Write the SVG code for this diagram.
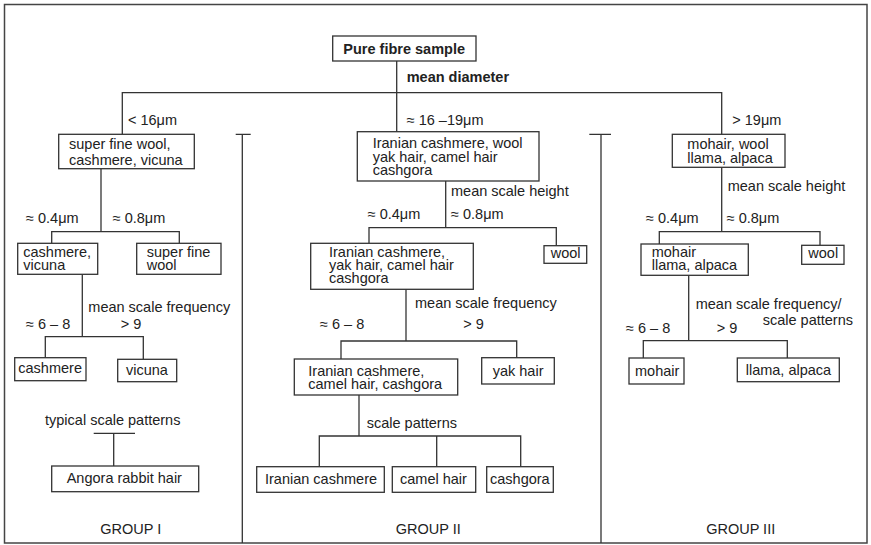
<svg xmlns="http://www.w3.org/2000/svg" width="871" height="545" viewBox="0 0 871 545">
<style>
.b{fill:#fff;stroke:#333;stroke-width:1.3}
.c line,.c path{stroke:#333;stroke-width:1.3;fill:none}
text{font-family:"Liberation Sans",Arial,sans-serif;font-size:14.5px;fill:#222}
.bold{font-weight:bold}
.m{text-anchor:middle}
</style>
<rect x="4.5" y="4.5" width="862.5" height="538.5" fill="#fff" stroke="#444" stroke-width="1.5"/>
<g id="connectors" class="c">
<line x1="396.7" y1="61" x2="396.7" y2="131.7"/>
<path d="M122.3 134.3V92.7H721.7V134.3"/>
<path d="M242.3 134.3V543M235.7 134.3H250.7"/>
<path d="M601 134.3V543M589.3 134.3H611"/>
<line x1="101" y1="168.7" x2="101" y2="231.7"/>
<path d="M51.7 243.3V231.7H179.3V243.3"/>
<line x1="82.3" y1="274.3" x2="82.3" y2="336.7"/>
<path d="M45.3 357.7V336.7H143.3V359.3"/>
<path d="M93.7 433.3H135M113.7 433.3V466"/>
<line x1="445.7" y1="181" x2="445.7" y2="227.7"/>
<path d="M369 243.3V227.7H556.3V245.7"/>
<line x1="406" y1="289.3" x2="406" y2="341"/>
<path d="M341 359V341H516.7V357.7"/>
<line x1="359" y1="395" x2="359" y2="436"/>
<path d="M319.3 466.7V436H520.7V466.7M436.7 436V466.7"/>
<line x1="721.7" y1="167.3" x2="721.7" y2="231.7"/>
<path d="M659.3 244V231.7H820V245.3"/>
<line x1="688.7" y1="275.3" x2="688.7" y2="340.7"/>
<path d="M643.3 358V340.7H787.3V358"/>
</g>
<g id="labels">
<text class="bold" x="406.7" y="82">mean diameter</text>
<text x="128" y="125">&lt; 16μm</text>
<text x="406.7" y="125">≈ 16 –19μm</text>
<text x="732.3" y="125">&gt; 19μm</text>
<text x="26" y="223.3">≈ 0.4μm</text>
<text x="112.7" y="223.3">≈ 0.8μm</text>
<text x="88.3" y="311.7">mean scale frequency</text>
<text x="26" y="329.3">≈ 6 – 8</text>
<text x="120.7" y="329.3">&gt; 9</text>
<text x="45" y="425">typical scale patterns</text>
<text x="451" y="196">mean scale height</text>
<text x="367.7" y="219.3">≈ 0.4μm</text>
<text x="451" y="219.3">≈ 0.8μm</text>
<text x="415" y="307.7">mean scale frequency</text>
<text x="320" y="329.3">≈ 6 – 8</text>
<text x="463.3" y="329.3">&gt; 9</text>
<text x="366.7" y="428.3">scale patterns</text>
<text x="727.7" y="190.7">mean scale height</text>
<text x="646" y="223.3">≈ 0.4μm</text>
<text x="726.7" y="223.3">≈ 0.8μm</text>
<text x="695.7" y="309.3">mean scale frequency/</text>
<text x="762.7" y="325">scale patterns</text>
<text x="626" y="333.3">≈ 6 – 8</text>
<text x="716.7" y="333.3">&gt; 9</text>
<text class="m" x="130.7" y="534">GROUP I</text>
<text class="m" x="428.3" y="534">GROUP II</text>
<text class="m" x="740.7" y="534">GROUP III</text>
</g>
<g id="pure"><rect class="b" x="332.7" y="36" width="143.3" height="25"/><text class="bold" x="343.3" y="53.5">Pure fibre sample</text></g>
<g id="sfw"><rect class="b" x="58.7" y="134.3" width="135.6" height="34.4"/><text x="69" y="149">super fine wool,</text><text x="69" y="164.5">cashmere, vicuna</text></g>
<g id="iran1"><rect class="b" x="357.3" y="131.7" width="181.7" height="49.3"/><text x="372.7" y="148.3">Iranian cashmere, wool</text><text x="372.7" y="161.7">yak hair, camel hair</text><text x="372.7" y="175">cashgora</text></g>
<g id="mohair1"><rect class="b" x="672.3" y="134.3" width="112.7" height="33"/><text x="687.3" y="149.3">mohair, wool</text><text x="687.3" y="162.7">llama, alpaca</text></g>
<g id="cv"><rect class="b" x="17.7" y="243.3" width="80" height="31"/><text x="23.3" y="257.3">cashmere,</text><text x="23.3" y="270">vicuna</text></g>
<g id="sfwool"><rect class="b" x="136.7" y="243.3" width="84.3" height="31"/><text x="146.7" y="257.3">super fine</text><text x="146.7" y="270">wool</text></g>
<g id="cashmere"><rect class="b" x="14.7" y="357.7" width="71.3" height="23"/><text x="18.3" y="373.3">cashmere</text></g>
<g id="vicuna"><rect class="b" x="117.7" y="359.3" width="59" height="22.4"/><text x="126" y="375">vicuna</text></g>
<g id="angora"><rect class="b" x="51.7" y="466" width="147" height="25.7"/><text x="66.7" y="483.3">Angora rabbit hair</text></g>
<g id="iran2"><rect class="b" x="310.7" y="243.3" width="162.6" height="46"/><text x="329" y="257.3">Iranian cashmere,</text><text x="329" y="270">yak hair, camel hair</text><text x="329" y="282.7">cashgora</text></g>
<g id="woolm"><rect class="b" x="544" y="245.7" width="42.7" height="17.6"/><text x="550.7" y="258.3">wool</text></g>
<g id="iran3"><rect class="b" x="294.3" y="359" width="163.4" height="36"/><text x="308.3" y="376">Iranian cashmere,</text><text x="308.3" y="388.5">camel hair, cashgora</text></g>
<g id="yak"><rect class="b" x="481.7" y="357.7" width="72.6" height="26.3"/><text x="492.7" y="376">yak hair</text></g>
<g id="ic"><rect class="b" x="256.7" y="466.7" width="127.6" height="25.6"/><text x="265" y="484">Iranian cashmere</text></g>
<g id="camel"><rect class="b" x="392.3" y="466.7" width="83.4" height="25.6"/><text x="400" y="484">camel hair</text></g>
<g id="cashgora"><rect class="b" x="486.7" y="466.7" width="66.6" height="25.6"/><text x="490" y="484">cashgora</text></g>
<g id="mohair2"><rect class="b" x="641" y="244" width="107.3" height="31.3"/><text x="651.7" y="257.3">mohair</text><text x="651.7" y="270">llama, alpaca</text></g>
<g id="woolr"><rect class="b" x="801.7" y="245.3" width="42.3" height="19"/><text x="808.3" y="258.3">wool</text></g>
<g id="mohair3"><rect class="b" x="629" y="358" width="55" height="26"/><text x="635" y="376">mohair</text></g>
<g id="llama"><rect class="b" x="737.3" y="358" width="102" height="23.7"/><text x="745.7" y="375">llama, alpaca</text></g>
</svg>
